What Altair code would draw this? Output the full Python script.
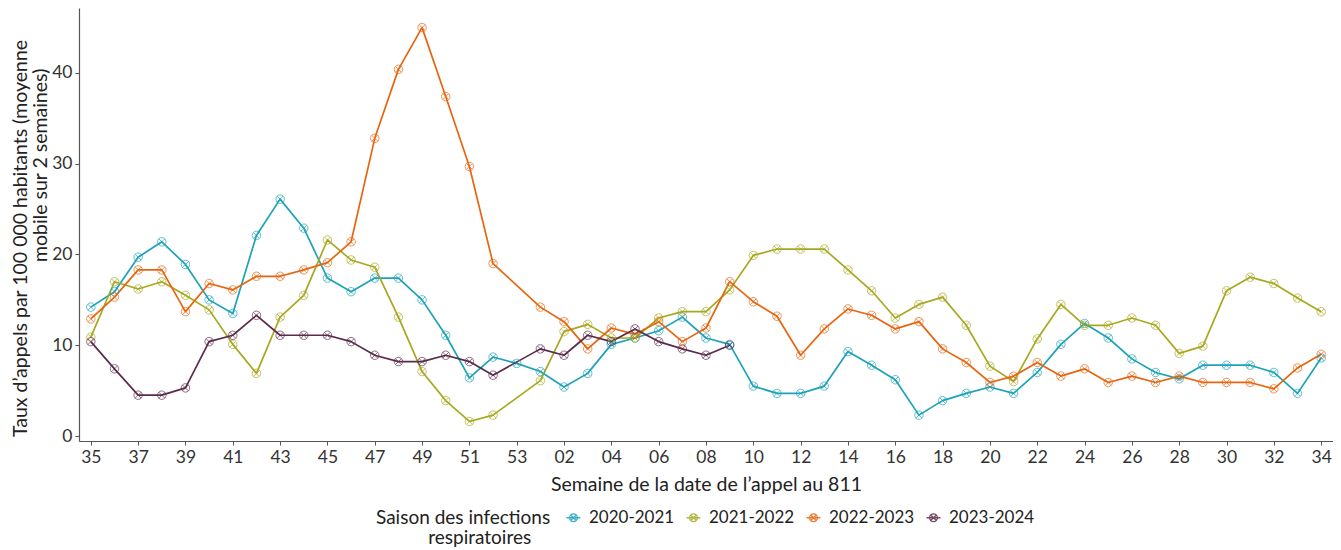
import altair as alt
import pandas as pd

weeks = ["35", "36", "37", "38", "39", "40", "41", "42", "43", "44", "45", "46", "47", "48",
         "49", "50", "51", "52", "53", "01", "02", "03", "04", "05", "06", "07", "08", "09",
         "10", "11", "12", "13", "14", "15", "16", "17", "18", "19", "20", "21", "22", "23",
         "24", "25", "26", "27", "28", "29", "30", "31", "32", "33", "34"]

tick_labels = ["35", "37", "39", "41", "43", "45", "47", "49", "51", "53", "02", "04", "06",
               "08", "10", "12", "14", "16", "18", "20", "22", "24", "26", "28", "30", "32", "34"]

seasons = ["2020-2021", "2021-2022", "2022-2023", "2023-2024"]
colors = ["#1ba3b8", "#a8a820", "#e8650f", "#5a2b4b"]

s2020 = [14.2, 15.9, 19.7, 21.4, 18.9, 15.0, 13.5, 22.1, 26.1, 22.9, 17.4, 15.9, 17.4, 17.4,
         15.0, 11.1, 6.4, 8.7, 8.0, 7.1, 5.4, 6.9, 10.1, 10.8, 11.6, 13.1, 10.8, 10.1,
         5.5, 4.7, 4.7, 5.5, 9.3, 7.8, 6.2, 2.3, 3.9, 4.7, 5.4, 4.7, 7.0, 10.1,
         12.4, 10.8, 8.5, 7.0, 6.3, 7.8, 7.8, 7.8, 7.0, 4.7, 8.6]

s2021 = [10.9, 17.0, 16.2, 17.0, 15.5, 13.9, 10.1, 6.9, 13.1, 15.5, 21.6, 19.4, 18.6, 13.1,
         7.1, 3.9, 1.6, 2.3, None, 6.1, 11.5, 12.3, 10.8, 10.8, 13.0, 13.7, 13.7, 16.1,
         19.9, 20.6, 20.6, 20.6, 18.3, 16.0, 13.0, 14.5, 15.3, 12.2, 7.7, 6.0, 10.7, 14.5,
         12.2, 12.2, 13.0, 12.2, 9.1, 9.9, 16.0, 17.5, 16.8, 15.2, 13.7]

s2022 = [12.9, 15.3, 18.3, 18.3, 13.7, 16.8, 16.1, 17.6, 17.6, 18.3, 19.1, 21.4, 32.8, 40.4,
         45.0, 37.4, 29.7, 19.0, None, 14.2, 12.6, 9.6, 11.9, 11.2, 12.6, 10.4, 11.9, 17.0,
         14.8, 13.2, 8.9, 11.8, 14.0, 13.3, 11.8, 12.6, 9.6, 8.1, 5.9, 6.6, 8.1, 6.6,
         7.4, 5.9, 6.6, 5.9, 6.6, 5.9, 5.9, 5.9, 5.2, 7.5, 9.0]

s2023 = [10.4, 7.4, 4.5, 4.5, 5.3, 10.4, 11.1, 13.3, 11.1, 11.1, 11.1, 10.4, 8.9, 8.2,
         8.2, 8.9, 8.2, 6.7, None, 9.6, 8.9, 11.1, 10.4, 11.8, 10.4, 9.6, 8.9, 10.0,
         None, None, None, None, None, None, None, None, None, None, None, None, None, None,
         None, None, None, None, None, None, None, None, None, None, None]

rows = []
for season, values in zip(seasons, [s2020, s2021, s2022, s2023]):
    for w, v in zip(weeks, values):
        if v is not None:
            rows.append({"semaine": w, "taux": v, "saison": season})
df = pd.DataFrame(rows)

FONT = "Lato"
ZW = "\u200b"
EM = "\u2003"
EN = "\u2002"
marker = ("M-1,0A1,1 0 1,1 1,0A1,1 0 1,1 -1,0Z"
          "M-0.72,-0.72L0.72,0.72M-0.72,0.72L0.72,-0.72")
legend_marker = ("M-1.8,0L1.8,0M-1,0A1,1 0 1,1 1,0A1,1 0 1,1 -1,0Z"
                 "M-0.72,-0.72L0.72,0.72M-0.72,0.72L0.72,-0.72")

x_enc = alt.X("semaine:O", sort=weeks,
              scale=alt.Scale(type="point", padding=0.5),
              axis=alt.Axis(values=tick_labels, labelAngle=0,
                            title="Semaine de la date de l\u2019appel au 811"))
y_enc = alt.Y("taux:Q", scale=alt.Scale(domain=[-0.55, 47.16], nice=False, zero=False),
              axis=alt.Axis(values=[0, 10, 20, 30, 40], grid=False,
                            titleLineHeight=20, titleY=230,
                            title=["Taux d\u2019appels par 100 000 habitants (moyenne",
                                   ZW + EM * 10 + "mobile sur 2 semaines)"]))
color_enc = alt.Color("saison:N", sort=seasons,
                      scale=alt.Scale(domain=seasons, range=colors),
                      legend=alt.Legend(title=["Saison des infections",
                                               ZW + EM * 3 + EN + "respiratoires"],
                                        orient="none", legendX=293, legendY=497,
                                        direction="horizontal", titleOrient="left",
                                        titleAnchor="start", titleBaseline="top",
                                        titlePadding=14, labelOffset=7,
                                        symbolType=legend_marker, symbolSize=60,
                                        symbolStrokeWidth=1.3, symbolFillColor="white"))

base = alt.Chart(df).encode(x=x_enc, y=y_enc, color=color_enc, detail="saison:N")
lines = base.mark_line(strokeWidth=1.7, strokeJoin="round")
points = base.mark_point(shape=marker, size=72, filled=False, strokeWidth=0.8, opacity=0.85)

chart = (
    alt.layer(lines, points)
    .properties(
        width=1254, height=433,
        padding={"left": 2, "top": -25, "right": 0, "bottom": -4},
        title=alt.TitleParams("du 23 août 2020 au 24 févr. 2024", anchor="middle",
                              fontSize=20, fontWeight="bold", font=FONT, offset=5,
                              color="#222222"),
    )
    .configure_view(stroke=None)
    .configure_axis(labelFont=FONT, titleFont=FONT, labelFontSize=17.5, titleFontSize=19.5,
                    labelColor="#333333", titleColor="#222222", titleFontWeight="normal",
                    domainColor="#555555", tickColor="#555555", tickSize=4,
                    domainWidth=1.2, labelPadding=3)
    .configure_axisY(titlePadding=1)
    .configure_axisX(titlePadding=10)
    .configure_legend(labelFont=FONT, titleFont=FONT, labelFontSize=17, titleFontSize=19,
                      titleFontWeight="normal", labelColor="#222222", titleColor="#222222",
                      titleLineHeight=20, columnPadding=8, padding=4)
)

chart.save("out.html", embed_options={"renderer": "svg", "actions": False})
